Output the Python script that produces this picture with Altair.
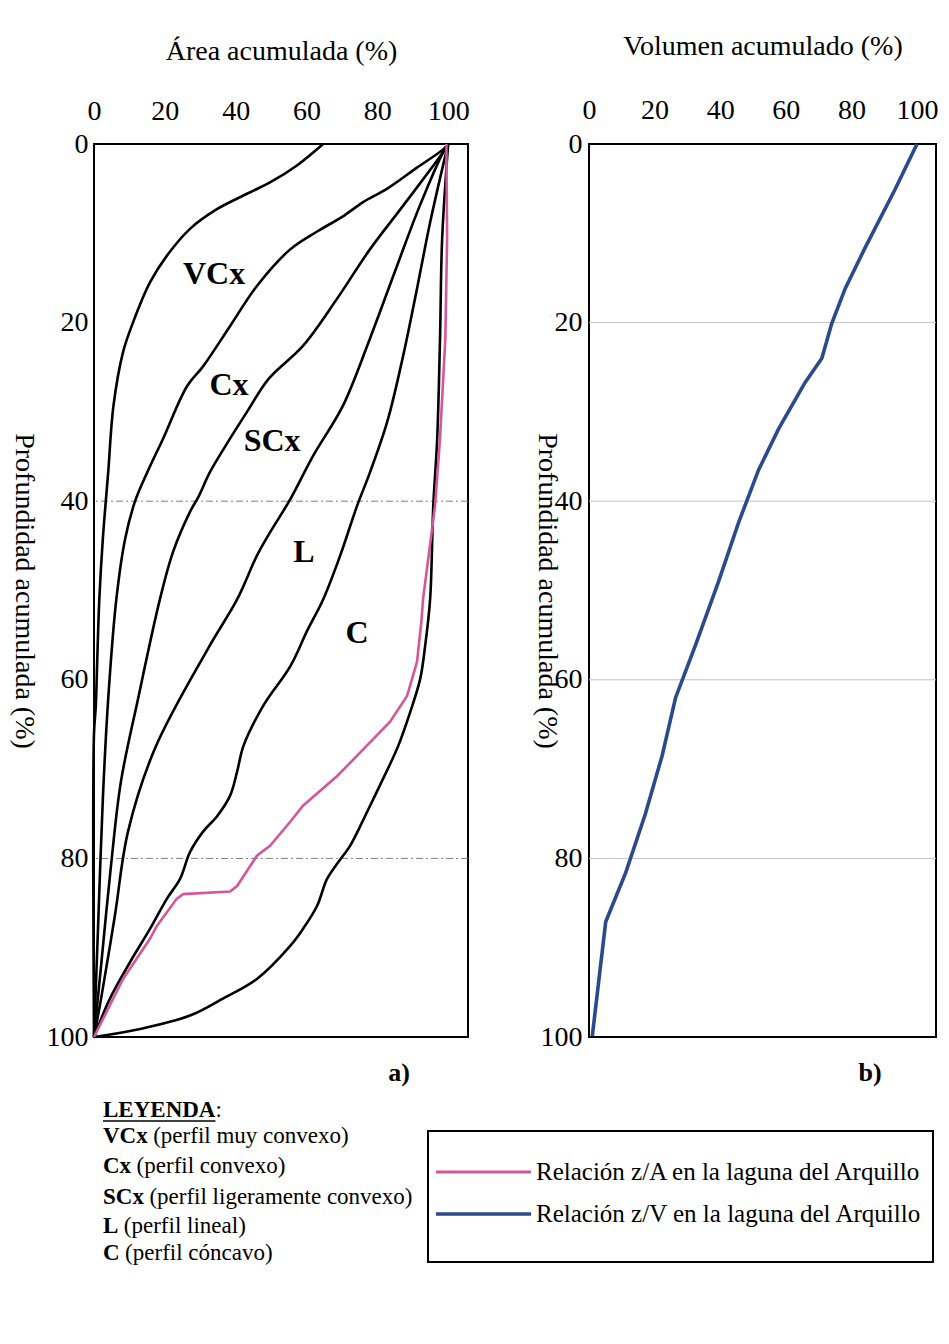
import altair as alt
import pandas as pd

FONT = "Liberation Serif"

# ---------------- Panel a): Área acumulada (%) vs Profundidad acumulada (%)
vcx_area = [64.7, 57.3, 49.7, 44.1, 34.7, 27.1, 20.6, 15.8, 11.0, 8.2, 5.5, 4.0, 2.5, 1.5, 0.9, 0.5, 0.0, 0.0]
vcx_depth = [0, 2.4, 4.3, 5.4, 7.3, 9.5, 12.5, 15.5, 20.0, 23.3, 29.3, 36.8, 44.2, 51, 58, 63, 66, 100]

cx_area = [100, 98.6, 91, 82.8, 76, 70.3, 63, 55.4, 46, 38.4, 30.8, 26.3, 19.5, 15, 11.6, 8.8, 6.3, 4, 2.5, 1.1, 0]
cx_depth = [0, 0.6, 2.7, 5.0, 6.5, 8.1, 9.8, 11.8, 15.9, 20.4, 24.9, 27.1, 33, 36.8, 40, 44.2, 51, 62.2, 73.3, 88.2, 100]

scx_area = [100, 98.6, 87.3, 77.9, 68.5, 59, 49.3, 43.2, 38.4, 32.8, 29.5, 27.1, 22.3, 18.6, 12.4, 7.6, 4.8, 2, 0]
scx_depth = [0, 0.9, 6.9, 11.8, 17.4, 22.6, 26.3, 30, 33, 36.7, 39.5, 41.2, 45.7, 51, 62.2, 71.4, 80.8, 92, 100]

l_area = [100, 98.6, 92, 85.6, 77.9, 70.3, 61.9, 55.4, 49.7, 46, 40.4, 32.2, 17.2, 9.6, 5.9, 2, 0]
l_depth = [0, 0.9, 6.9, 13.6, 21.8, 29.3, 34.9, 39.8, 43.5, 46.1, 51, 56.5, 67.7, 77, 86.4, 95.7, 100]

c_area = [100, 99.2, 94.9, 91.2, 87.3, 82.8, 77.9, 74.3, 69.5, 64.7, 60.2, 55.4, 47.8, 42.2, 40.4, 38.4,
          34.7, 30.8, 27.1, 24.3, 20.6, 15.8, 10.2, 4.5, 0]
c_depth = [0, 1.3, 8.8, 16.2, 23.7, 31.1, 36.8, 40.5, 46.1, 51, 54.5, 58.5, 62.9, 67.4, 70.3, 73,
           75.3, 77, 79.3, 82.3, 84.5, 87.9, 91.6, 95.7, 100]

c2_area = [100, 98.3, 97.7, 96.9, 95.8, 94.9, 93.5, 92.1, 89.3, 85.9, 81.6, 77.1, 72.3, 69, 65.8, 63,
           59, 55.4, 46, 36.4, 27.1, 13, 0]
c2_depth = [0, 10.6, 21.8, 33, 40.5, 51, 56.2, 59.9, 63.6, 67.4, 71.1, 74.8, 78.6, 80.4, 82.3, 85.3,
            87.9, 89.8, 93.5, 95.7, 97.6, 99.1, 100]

# Relación z/A en la laguna del Arquillo
za_area = [99.5, 99.7, 99.2, 97.7, 96.3, 92.9, 92.5, 91.2, 88.4, 83.6, 74.3, 68.6, 59, 55.4, 49.7, 46,
           40.4, 38.4, 25.2, 23.4, 17.7, 15.8, 8.2, 0]
za_depth = [0, 10.6, 21.8, 33, 40.5, 51, 53.2, 58, 61.8, 64.7, 68.5, 70.8, 74.1, 75.9, 78.6, 79.7,
            83.1, 83.7, 84.0, 84.5, 87.6, 89, 93.5, 100]

# ---------------- Panel b): Volumen acumulado (%) vs Profundidad acumulada (%)
zv_vol = [100, 93.3, 84.2, 78.1, 74.0, 71.0, 65.9, 57.8, 51.7, 45.6, 39.6, 32.5, 26.4, 22.3, 17.2, 11.2, 5.1, 1.0]
zv_depth = [0, 5.1, 11.6, 16.2, 20.1, 24.0, 26.7, 31.9, 36.5, 42.4, 48.9, 56.1, 62.0, 68.5, 75.0, 81.6, 87.1, 99.9]

# curve labels
curve_labels = ["VCx", "Cx", "SCx", "L", "C"]
label_area = [33.9, 38.1, 50.3, 59.3, 74.3]
label_depth = [14.6, 27.0, 33.3, 45.7, 54.8]

tick_vals = [0, 20, 40, 60, 80, 100]
grid_a = [40, 80]
grid_b = [20, 40, 60, 80]

leg_codes = ["VCx", "Cx", "SCx", "L", "C"]
leg_desc = ["(perfil muy convexo)", "(perfil convexo)", "(perfil ligeramente convexo)",
            "(perfil lineal)", "(perfil cóncavo)"]
series_names = ["Relación z/A en la laguna del Arquillo", "Relación z/V en la laguna del Arquillo"]

PINK = "#d4579a"
BLUE = "#2b4a8c"

# ---------------- build tables
black = {"VCx": (vcx_area, vcx_depth), "Cx": (cx_area, cx_depth), "SCx": (scx_area, scx_depth),
         "L": (l_area, l_depth), "C": (c_area, c_depth), "C2": (c2_area, c2_depth)}
rows = []
for name, (xs, ys) in black.items():
    for i, (x, y) in enumerate(zip(xs, ys)):
        rows.append({"curve": name, "area": x, "depth": y, "i": i})
df_black = pd.DataFrame(rows)
df_za = pd.DataFrame({"area": za_area, "depth": za_depth, "i": range(len(za_area))})
df_zv = pd.DataFrame({"vol": zv_vol, "depth": zv_depth, "i": range(len(zv_vol))})
df_lab = pd.DataFrame({"label": curve_labels, "area": label_area, "depth": label_depth})
df_ga = pd.DataFrame({"depth": grid_a})
df_gb = pd.DataFrame({"depth": grid_b})
one = pd.DataFrame({"k": [0]})

TOP = 144  # page y of the plot areas
LEFT_A = 94
LEFT_B = 589

axis_xa = alt.Axis(orient="top", values=tick_vals, title="Área acumulada (%)", titleY=-93,
                   titleBaseline="middle", labelPadding=33, labelBaseline="middle", labelFlush=False)
axis_ya = alt.Axis(values=tick_vals, title="Profundidad acumulada (%)", titleAngle=90, titleX=-71,
                   titleBaseline="middle", labelPadding=6, labelFlush=False)
sc_xa = alt.Scale(domain=[0, 105.6], nice=False, zero=False)
sc_y = alt.Scale(domain=[0, 100], reverse=True, nice=False, zero=False)

XA = alt.X("area:Q", scale=sc_xa, axis=axis_xa)
YA = alt.Y("depth:Q", scale=sc_y, axis=axis_ya)

grid_layer_a = alt.Chart(df_ga).mark_rule(color="#808080", strokeWidth=1, strokeDash=[7, 3, 2, 3]).encode(y=YA)
black_layer = alt.Chart(df_black).mark_line(color="black", strokeWidth=2.6, interpolate="catmull-rom").encode(
    x=XA, y=YA, detail="curve:N", order="i:Q")
za_layer = alt.Chart(df_za).mark_line(color=PINK, strokeWidth=2.6).encode(x=XA, y=YA, order="i:Q")
lab_layer = alt.Chart(df_lab).mark_text(font=FONT, fontSize=32, fontWeight="bold", color="black").encode(
    x=XA, y=YA, text="label:N")


def txt(s, px, py, size=23, weight="normal", align="left"):
    return alt.Chart(one).mark_text(text=s, font=FONT, fontSize=size, fontWeight=weight, align=align,
                                    baseline="middle", color="black").encode(
        x=alt.value(px), y=alt.value(py))


# legend (left, textual)
bold_w = {"VCx": 1.944, "Cx": 1.222, "SCx": 1.778, "L": 0.667, "C": 0.722}
leg_layers = []
lx = 103 - LEFT_A
leg_layers.append(txt("LEYENDA", lx, 1110 - TOP, weight="bold"))
leg_layers.append(txt(":", lx + 4.889 * 23, 1110 - TOP))
leg_layers.append(alt.Chart(one).mark_rule(color="black", strokeWidth=1.5).encode(
    x=alt.value(lx), x2=alt.value(lx + 4.889 * 23), y=alt.value(1121 - TOP)))
leg_y = [1136, 1166, 1197, 1226, 1253]
for code, desc, py in zip(leg_codes, leg_desc, leg_y):
    leg_layers.append(txt(code, lx, py - TOP, weight="bold"))
    leg_layers.append(txt(desc, lx + bold_w[code] * 23 + 5.5, py - TOP))

a_lab = txt("a)", 399 - LEFT_A, 1073 - TOP, size=26, weight="bold", align="center")

panel_a = alt.layer(grid_layer_a, black_layer, za_layer, lab_layer, a_lab, *leg_layers).properties(
    width=374, height=893)

# ---------------- panel b
axis_xb = alt.Axis(orient="top", values=tick_vals, title="Volumen acumulado (%)", titleY=-98,
                   titleBaseline="middle", labelPadding=34, labelBaseline="middle", labelFlush=False)
axis_yb = alt.Axis(values=tick_vals, title="Profundidad acumulada (%)", titleAngle=90, titleX=-43,
                   titleBaseline="middle", labelPadding=7, labelFlush=False)
sc_xb = alt.Scale(domain=[0, 105.8], nice=False, zero=False)
XB = alt.X("vol:Q", scale=sc_xb, axis=axis_xb)
YB = alt.Y("depth:Q", scale=sc_y, axis=axis_yb)

grid_layer_b = alt.Chart(df_gb).mark_rule(color="#c4c4c4", strokeWidth=1).encode(y=YB)
zv_layer = alt.Chart(df_zv).mark_line(color=BLUE, strokeWidth=3.6).encode(x=XB, y=YB, order="i:Q")

box = alt.Chart(one).mark_rect(fill="white", stroke="black", strokeWidth=2).encode(
    x=alt.value(428 - LEFT_B), x2=alt.value(933 - LEFT_B), y=alt.value(1131 - TOP), y2=alt.value(1262 - TOP))
pink_key = alt.Chart(one).mark_rule(color=PINK, strokeWidth=3).encode(
    x=alt.value(436 - LEFT_B), x2=alt.value(531 - LEFT_B), y=alt.value(1172 - TOP))
blue_key = alt.Chart(one).mark_rule(color=BLUE, strokeWidth=3.5).encode(
    x=alt.value(436 - LEFT_B), x2=alt.value(531 - LEFT_B), y=alt.value(1214 - TOP))
key_txt1 = txt(series_names[0], 536 - LEFT_B, 1172 - TOP, size=25)
key_txt2 = txt(series_names[1], 536 - LEFT_B, 1214 - TOP, size=25)
b_lab = txt("b)", 870 - LEFT_B, 1073 - TOP, size=26, weight="bold", align="center")

panel_b = alt.layer(grid_layer_b, zv_layer, box, pink_key, blue_key, key_txt1, key_txt2, b_lab).properties(
    width=347, height=893)

chart = alt.hconcat(panel_a, panel_b, spacing=121, bounds="flush").properties(
    padding={"left": 0, "top": 23, "right": 0, "bottom": 5}
).configure_view(stroke="black", strokeWidth=2).configure_axis(
    domain=False, ticks=False, grid=False, labelFont=FONT, titleFont=FONT, labelFontSize=28,
    titleFontSize=28, labelColor="black", titleColor="black", titleFontWeight="normal"
)

chart.save("out.html", embed_options={"renderer": "svg", "actions": False})
